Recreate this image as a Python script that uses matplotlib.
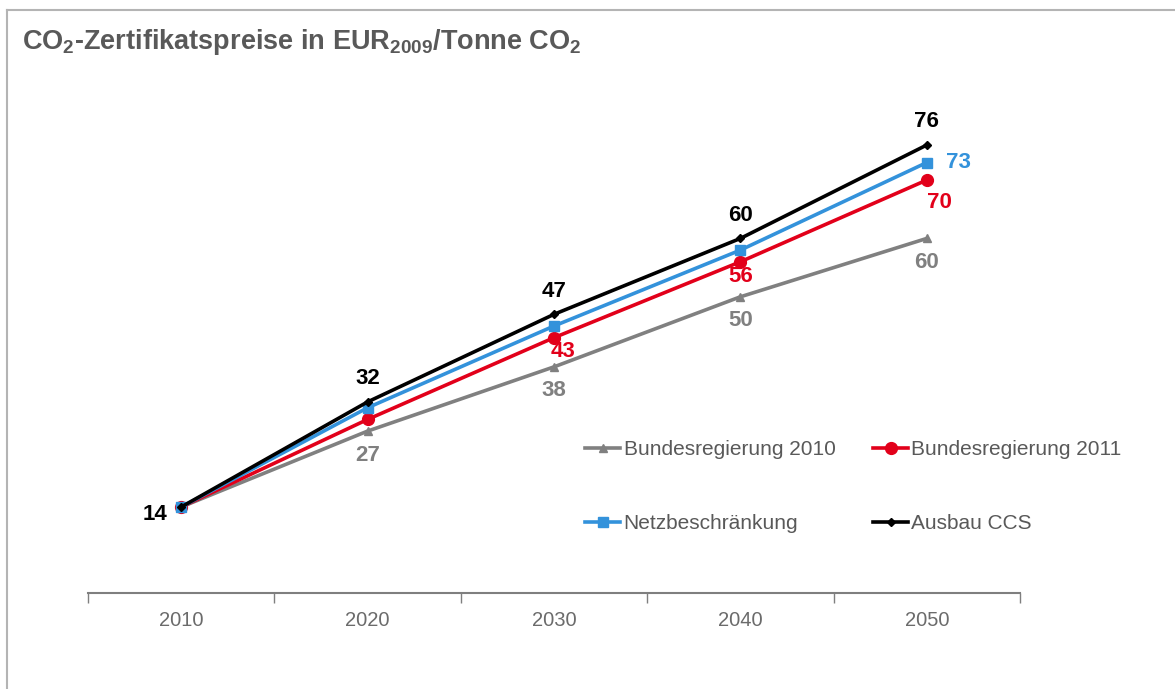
import matplotlib
matplotlib.use("Agg")
import matplotlib.pyplot as plt
from matplotlib.lines import Line2D

plt.rcParams["font.family"] = ["Liberation Sans", "DejaVu Sans"]
plt.rcParams["mathtext.fontset"] = "custom"
plt.rcParams["mathtext.rm"] = "Liberation Sans:bold"
plt.rcParams["mathtext.bf"] = "Liberation Sans:bold"

years = ["2010", "2020", "2030", "2040", "2050"]
breg_2010 = [14, 27, 38, 50, 60]
breg_2011 = [14, 29, 43, 56, 70]
netz = [14, 31, 45, 58, 73]
ccs = [14, 32, 47, 60, 76]

GRAY = "#808080"
RED = "#e2001a"
BLUE = "#3392db"
BLACK = "#000000"
TEXT = "#595959"

fig = plt.figure(figsize=(11.75, 6.89), dpi=100)
W, H = 1175, 689

# light frame (top and left edge only visible)
fig.add_artist(Line2D([7 / W, 1], [1 - 10 / H, 1 - 10 / H], color="#b4b4b4", lw=1.5))
fig.add_artist(Line2D([7 / W, 7 / W], [0, 1 - 10 / H], color="#b4b4b4", lw=1.5))

fig.text(22 / W, 1 - 42 / H,
         r"CO$_\mathbf{2}$-Zertifikatspreise in EUR$_\mathbf{2009}$/Tonne CO$_\mathbf{2}$",
         fontsize=19.5, fontweight="bold", color=TEXT, va="center", ha="left")

ax = fig.add_axes([88 / W, 1 - 593 / H, (1020 - 88) / W, (593 - 100) / H])
x = list(range(len(years)))

lw = 2.6
h1, = ax.plot(x, breg_2010, color=GRAY, lw=lw, marker="^", ms=6, label="Bundesregierung 2010")
h2, = ax.plot(x, breg_2011, color=RED, lw=lw, marker="o", ms=8.5, label="Bundesregierung 2011")
h3, = ax.plot(x, netz, color=BLUE, lw=lw, marker="s", ms=7, label="Netzbeschränkung")
h4, = ax.plot(x, ccs, color=BLACK, lw=lw, marker="D", ms=4.5, label="Ausbau CCS")

# y scale: 14 -> px 507, 76 -> px 145
ppu = (507 - 145) / (76 - 14)
ymin = 14 - (593 - 507) / ppu
ymax = 14 + (507 - 100) / ppu
ax.set_ylim(ymin, ymax)
ax.set_xlim(-0.5, len(years) - 0.5)

lab = dict(fontsize=16, fontweight="bold", ha="center", va="center")
# black labels
ax.text(x[0] - 0.14, ccs[0] - 8 / ppu, str(ccs[0]), color=BLACK, **lab)
for i in range(1, 5):
    ax.text(x[i], ccs[i] + 23 / ppu, str(ccs[i]), color=BLACK, **lab)
# blue label
ax.text(x[4] + 0.168, netz[4], str(netz[4]), color=BLUE, **lab)
# red labels
for i, dx, dy in [(2, 0.05, 14), (3, 0, 15), (4, 0.07, 22)]:
    ax.text(x[i] + dx, breg_2011[i] - dy / ppu, str(breg_2011[i]), color=RED, **lab)
# gray labels
for i in range(1, 5):
    ax.text(x[i], breg_2010[i] - 24 / ppu, str(breg_2010[i]), color=GRAY, **lab)

for s in ["top", "right", "left"]:
    ax.spines[s].set_visible(False)
ax.spines["bottom"].set_color("#7f7f7f")
ax.spines["bottom"].set_linewidth(1.5)
ax.set_yticks([])
ax.set_xticks([i - 0.5 for i in range(len(years) + 1)])
ax.set_xticklabels([])
ax.tick_params(axis="x", length=7, width=1, color="#7f7f7f")
for i, yr in enumerate(years):
    ax.text(i, ymin - 28 / ppu, yr, ha="center", va="center", fontsize=14.5, color="#6b6b6b")

ax.legend(handles=[h1, h3, h2, h4],
          loc="upper left", bbox_to_anchor=((585 - 88) / (1020 - 88), (593 - 440) / (593 - 100)),
          ncol=2, frameon=False, fontsize=15, labelcolor=TEXT,
          handlelength=1.7, handletextpad=0.15, labelspacing=2.65, columnspacing=1.8,
          borderaxespad=0, borderpad=0)

fig.savefig("out.png", dpi=100)
